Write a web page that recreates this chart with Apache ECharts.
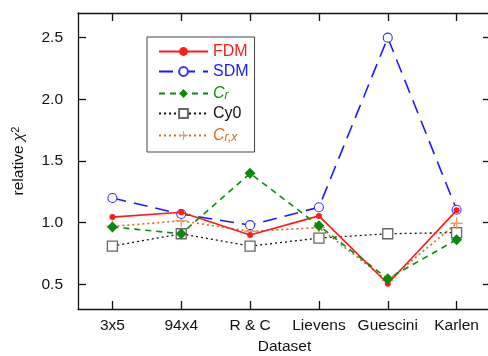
<!DOCTYPE html>
<html><head><meta charset="utf-8">
<script src="https://cdn.jsdelivr.net/npm/echarts@6/dist/echarts.min.js"></script>
<style>html,body{margin:0;padding:0;background:#fff}#c{width:488px;height:356px}</style>
</head><body><div id="c"></div>
<script>
const categories = ['3x5', '94x4', 'R & C', 'Lievens', 'Guescini', 'Karlen'];
const FDM  = [1.045, 1.085, 0.90, 1.055, 0.505, 1.10];
const SDM  = [1.20, 1.07, 0.98, 1.125, 2.50, 1.105];
const Cr   = [0.965, 0.91, 1.40, 0.975, 0.545, 0.862];
const Cy0  = [0.81, 0.91, 0.81, 0.875, 0.91, 0.92];
const Crx  = [0.97, 1.015, 0.93, 0.96, 0.53, 0.995];
const yTicks = [0.5, 1.0, 1.5, 2.0, 2.5];

const FONT = 'Liberation Sans, Arial, sans-serif';
const FS = 15.5;
const RED = '#ff1a1a', BLUE = '#1a1aff', GREEN = '#0a8a0a', ORANGE = '#d2691e';
const PLUS = 'path://M4.4,0h1.2v4.4h4.4v1.2h-4.4v4.4h-1.2v-4.4h-4.4v-1.2h4.4z';

const chart = echarts.init(document.getElementById('c'), null, {renderer: 'canvas'});
const axisCommon = {
  axisLine: {show: true, lineStyle: {color: '#111', width: 1.3}},
  axisTick: {show: true, inside: true, length: 8, lineStyle: {color: '#111', width: 1.3}},
  splitLine: {show: false}
};
chart.setOption({
  animation: false,
  textStyle: {fontFamily: FONT},
  grid: {left: 78, right: -3, top: 13, bottom: 47, outerBoundsMode: 'none', containLabel: false},
  xAxis: [
    Object.assign({}, axisCommon, {
      type: 'category', data: categories, position: 'bottom',
      axisTick: Object.assign({}, axisCommon.axisTick, {alignWithLabel: true}),
      axisLabel: {color: '#111', fontSize: FS, margin: 9, fontFamily: FONT, interval: 0},
      name: 'Dataset', nameLocation: 'middle', nameGap: 29,
      nameTextStyle: {color: '#111', fontSize: FS, fontFamily: FONT}
    }),
    Object.assign({}, axisCommon, {
      type: 'category', data: categories, position: 'top',
      axisTick: Object.assign({}, axisCommon.axisTick, {alignWithLabel: true}),
      axisLabel: {show: false}
    })
  ],
  yAxis: [
    Object.assign({}, axisCommon, {
      type: 'value', min: 0.3, max: 2.7, position: 'left',
      axisTick: Object.assign({}, axisCommon.axisTick, {customValues: yTicks}),
      axisLabel: {customValues: yTicks, color: '#111', fontSize: FS, margin: 15, fontFamily: FONT,
        formatter: v => v.toFixed(1)},
      name: 'relative {i|χ}{sup|2}', nameLocation: 'middle', nameGap: 51, nameRotate: 90,
      nameTextStyle: {color: '#111', fontSize: FS, fontFamily: FONT,
        rich: {i: {fontStyle: 'italic', fontSize: FS, fontFamily: FONT, color: '#111'},
               sup: {fontSize: 11, verticalAlign: 'top', fontFamily: FONT, color: '#111', padding: [0,0,6,0]}}}
    }),
    Object.assign({}, axisCommon, {
      type: 'value', min: 0.3, max: 2.7, position: 'right',
      axisTick: Object.assign({}, axisCommon.axisTick, {customValues: yTicks}),
      axisLabel: {show: false}
    })
  ],
  legend: {
    orient: 'vertical', left: 147, top: 37,
    backgroundColor: '#fff', borderColor: '#444', borderWidth: 1, borderRadius: 0,
    padding: [6, 6, 8, 11], itemWidth: 49, itemHeight: 11, itemGap: 3,
    textStyle: {fontSize: 16, fontFamily: FONT, lineHeight: 17,
      rich: {
        gC: {color: GREEN, fontStyle: 'italic', fontSize: 16, fontFamily: FONT, lineHeight: 17},
        gs: {color: GREEN, fontStyle: 'italic', fontSize: 12, fontFamily: FONT, verticalAlign: 'bottom', lineHeight: 17, padding: [7,0,0,0]},
        oC: {color: ORANGE, fontStyle: 'italic', fontSize: 16, fontFamily: FONT, lineHeight: 17},
        os: {color: ORANGE, fontStyle: 'italic', fontSize: 12, fontFamily: FONT, verticalAlign: 'bottom', lineHeight: 17, padding: [7,0,0,0]}
      }},
    formatter: name => name === 'Cr' ? '{gC|C}{gs|r}' : name === 'Crx' ? '{oC|C}{os|r,x}' : name,
    data: [
      {name: 'FDM', textStyle: {color: RED}},
      {name: 'SDM', textStyle: {color: BLUE}},
      {name: 'Cr', textStyle: {color: GREEN}},
      {name: 'Cy0', textStyle: {color: '#111'}},
      {name: 'Crx', textStyle: {color: ORANGE}}
    ]
  },
  series: [
    {name: 'Cy0', type: 'line', data: Cy0, symbol: 'rect', symbolSize: 10,
     lineStyle: {color: '#111', width: 1.3, type: [2, 3]},
     itemStyle: {color: '#fff', borderColor: '#666', borderWidth: 1.3}, z: 2},
    {name: 'Crx', type: 'line', data: Crx, symbol: PLUS, symbolSize: 12,
     lineStyle: {color: ORANGE, width: 1.6, type: [2, 3]},
     itemStyle: {color: '#e9a060', borderWidth: 0}, z: 3},
    {name: 'SDM', type: 'line', data: SDM, symbol: 'circle', symbolSize: 9,
     lineStyle: {color: BLUE, width: 1.6, type: [14, 8]},
     itemStyle: {color: '#fff', borderColor: '#3333ff', borderWidth: 1.1}, z: 4},
    {name: 'FDM', type: 'line', data: FDM, symbol: 'circle', symbolSize: 6,
     lineStyle: {color: RED, width: 1.6, type: 'solid'},
     itemStyle: {color: RED, borderWidth: 0}, z: 5},
    {name: 'Cr', type: 'line', data: Cr, symbol: 'diamond', symbolSize: 11,
     lineStyle: {color: GREEN, width: 1.6, type: [6, 5]},
     itemStyle: {color: GREEN, borderWidth: 0}, z: 6}
  ]
});
</script></body></html>
